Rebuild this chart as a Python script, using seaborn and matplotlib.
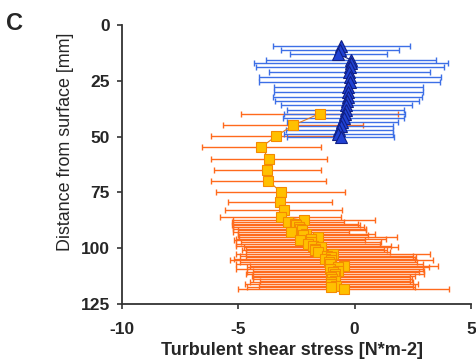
import matplotlib
matplotlib.use("Agg")
import matplotlib.pyplot as plt
import seaborn as sns
import pandas as pd

# ---- data ----
blue_depth = [9.3, 11.2, 13.0, 15.7, 17.2, 18.7, 21.0, 23.2, 25.5, 27.7, 30.0,
              32.2, 34.0, 36.0, 37.9, 39.7, 41.5, 43.5, 45.3, 47.2, 48.7, 50.3]
blue_mean = [-0.57, -0.63, -0.7, -0.14, -0.15, -0.19, -0.23, -0.19, -0.21, -0.26, -0.28,
             -0.3, -0.32, -0.35, -0.38, -0.42, -0.46, -0.52, -0.58, -0.66, -0.7, -0.6]
blue_err = [2.93, 2.52, 2.09, 3.65, 4.18, 4.03, 3.45, 3.91, 3.9, 3.2, 3.2,
            3.2, 3.1, 2.8, 2.5, 2.6, 2.6, 2.4, 2.25, 2.3, 2.35, 2.3]

orange_depth = [39.7, 45.0, 49.9, 54.7, 59.9, 64.9, 69.7, 74.9, 79.4, 82.9, 85.9,
                87.5, 88.3, 89.0, 89.8, 90.5, 91.3, 92.0, 92.8, 93.5, 94.3,
                95.0, 95.8, 96.5, 97.3, 98.0, 98.8, 99.5, 100.3, 101.0, 101.8,
                102.5, 103.3, 104.0, 104.8, 105.5, 106.3, 107.0, 107.8, 108.5, 109.3,
                110.0, 110.8, 111.5, 112.3, 113.0, 113.8, 114.5, 115.3, 116.0, 116.8,
                117.5, 118.4]
orange_mean = [-1.5, -2.65, -3.39, -4.0, -3.68, -3.75, -3.71, -3.16, -3.2, -3.04, -3.18,
               -2.18, -2.86, -2.55, -2.5, -2.4, -2.36, -2.26, -2.72, -2.07, -2.22,
               -1.57, -1.86, -2.36, -1.86, -2.0, -1.77, -1.43, -1.69, -1.72, -1.57,
               -0.93, -1.2, -1.0, -1.29, -1.0, -1.1, -1.07, -0.47, -0.71, -1.07,
               -0.69, -0.93, -0.83, -0.9, -1.0, -0.95, -0.86, -1.0, -1.0, -0.8,
               -1.0, -0.47]
orange_err = [3.36, 3.0, 2.79, 2.55, 2.5, 2.29, 2.47, 2.77, 2.24, 2.51, 2.58,
              3.04, 2.4, 2.68, 2.75, 2.8, 2.85, 2.75, 2.5, 2.95, 2.79,
              3.4, 3.22, 2.8, 3.0, 3.1, 3.34, 3.3, 2.97, 3.1, 3.08,
              4.15, 3.7, 3.65, 3.9, 4.36, 3.8, 4.0, 4.04, 3.9, 4.0,
              3.68, 3.7, 3.83, 3.5, 3.36, 3.4, 3.22, 3.5, 3.72, 3.3,
              3.6, 4.54]

x_ticks = [-10, -5, 0, 5]
y_ticks = [0, 25, 50, 75, 100, 125]

blue_df = pd.DataFrame({"depth": blue_depth, "stress": blue_mean, "err": blue_err})
orange_df = pd.DataFrame({"depth": orange_depth, "stress": orange_mean, "err": orange_err})

sns.set_style("ticks")
plt.rcParams["font.family"] = ["Liberation Sans", "DejaVu Sans"]

fig = plt.figure(figsize=(4.77, 3.64), dpi=100)
ax = fig.add_axes([0.2551, 0.1648, 0.7323, 0.7665])

BLUE_BAR = "#3d6fe6"
BLUE_FACE = "#2142d4"
BLUE_EDGE = "#0f1f86"
OR_BAR = "#ff6a1c"
OR_FACE = "#ffc000"
OR_EDGE = "#f58a00"

ax.errorbar(orange_df["stress"], orange_df["depth"], xerr=orange_df["err"], fmt="none",
            ecolor=OR_BAR, elinewidth=1.0, capsize=2.0, capthick=1.0, zorder=1)
ax.errorbar(blue_df["stress"], blue_df["depth"], xerr=blue_df["err"], fmt="none",
            ecolor=BLUE_BAR, elinewidth=1.0, capsize=2.0, capthick=1.0, zorder=2)

sns.lineplot(data=orange_df, x="stress", y="depth", orient="y", sort=True, ax=ax,
             color="#e07a20", linewidth=0.8, marker="s", markersize=7.8,
             markerfacecolor=OR_FACE, markeredgecolor=OR_EDGE, markeredgewidth=0.8,
             zorder=3, errorbar=None)
sns.lineplot(data=blue_df, x="stress", y="depth", orient="y", sort=True, ax=ax,
             color=BLUE_EDGE, linewidth=0.8, marker="^", markersize=8.5,
             markerfacecolor=BLUE_FACE, markeredgecolor=BLUE_EDGE, markeredgewidth=0.8,
             zorder=4, errorbar=None)

ax.set_xlim(-10, 5)
ax.set_ylim(125, 0)
ax.set_xticks(x_ticks)
ax.set_yticks(y_ticks)
ax.set_xticklabels([str(t) for t in x_ticks], fontsize=12.5, fontweight="bold")
ax.set_yticklabels([str(t) for t in y_ticks], fontsize=12.5, fontweight="bold")
ax.tick_params(direction="out", length=3.6, width=1.2, color="#333333")
ax.tick_params(axis="x", pad=9.5)
ax.tick_params(axis="y", pad=5)
for s in ["top", "right"]:
    ax.spines[s].set_visible(False)
for s in ["left", "bottom"]:
    ax.spines[s].set_linewidth(1.3)
    ax.spines[s].set_color("#333333")

ax.set_xlabel("Turbulent shear stress [N*m-2]", fontsize=13, fontweight="bold", labelpad=1)
ax.xaxis.set_label_coords(0.489, -0.137)
ax.set_ylabel("Distance from surface [mm]", fontsize=12.9, labelpad=5)
ax.yaxis.label.set_y(0.583)

fig.text(0.012, 1 - 30 / 364, "C", fontsize=17, fontweight="bold", va="baseline", ha="left")

fig.savefig("out.png", dpi=100)
